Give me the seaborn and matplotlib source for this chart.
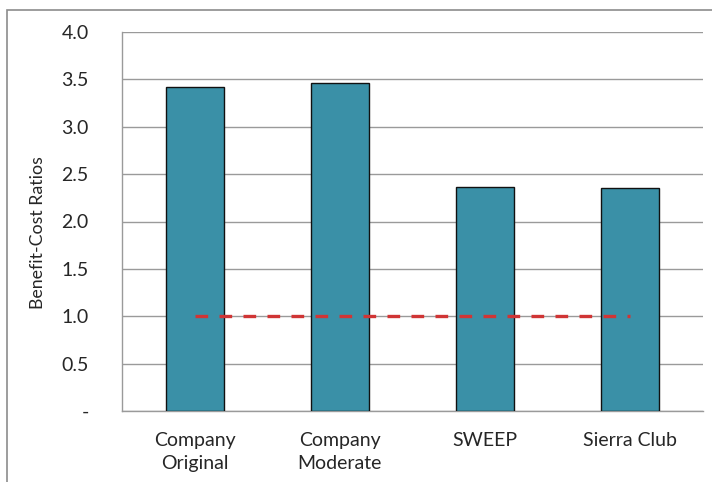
import matplotlib
matplotlib.use('Agg')
import matplotlib.pyplot as plt
import matplotlib.patches as mpatches
import matplotlib.ticker as mticker
import pandas as pd
import seaborn as sns

categories = ['Company\nOriginal', 'Company\nModerate', 'SWEEP', 'Sierra Club']
ratios = [3.42, 3.46, 2.36, 2.35]
breakeven = [1.0, 1.0]
y_ticks = [0.0, 0.5, 1.0, 1.5, 2.0, 2.5, 3.0, 3.5, 4.0]
y_ticklabels = ['-', '0.5', '1.0', '1.5', '2.0', '2.5', '3.0', '3.5', '4.0']

sns.set_theme(style='white')
plt.rcParams['font.family'] = ['Lato', 'DejaVu Sans']

df = pd.DataFrame({'scenario': categories, 'ratio': ratios})

fig = plt.figure(figsize=(7.12, 4.82), dpi=100)
ax = fig.add_axes([122 / 712, 71 / 482, 581 / 712, 379 / 482])

sns.barplot(data=df, x='scenario', y='ratio', ax=ax, color='#3A90A7',
            saturation=1, width=0.4, edgecolor='#111111', linewidth=1.0, zorder=3)

# break-even line from first to last bar
ax.plot([0, len(categories) - 1], breakeven, color='#D03535',
        linewidth=2.4, linestyle=(0, (3.8, 3.4)), zorder=4)

ax.set_xlim(-0.5, len(categories) - 0.5)
ax.set_ylim(0, 4.0)
ax.set_yticks(y_ticks)
ax.set_yticklabels(y_ticklabels, fontsize=14)
ax.yaxis.grid(True, color='#9a9a9a', linewidth=1.0, zorder=0)
ax.set_axisbelow(True)

ax.xaxis.set_minor_locator(mticker.FixedLocator([i - 0.5 for i in range(len(categories) + 1)]))
ax.tick_params(axis='x', which='major', length=0, pad=15, labelsize=14)
ax.tick_params(axis='x', which='minor', length=7, width=1, color='#9a9a9a', direction='out')
ax.tick_params(axis='y', which='major', length=6, width=1, color='#9a9a9a',
               direction='out', pad=18)
for lbl in ax.get_xticklabels():
    lbl.set_linespacing(1.45)
    lbl.set_va('top')

ax.set_xlabel('')
ax.set_ylabel('Benefit-Cost Ratios', fontsize=12.8)
ax.yaxis.set_label_coords(-0.13, 0.47)

for side in ['top', 'right']:
    ax.spines[side].set_visible(False)
for side in ['left', 'bottom']:
    ax.spines[side].set_color('#9a9a9a')
    ax.spines[side].set_linewidth(1.0)

# outer chart frame (runs off the right and bottom edges)
frame = mpatches.Rectangle((7 / 712, -0.1), 1.2, (482 - 10) / 482 + 0.1,
                           transform=fig.transFigure, fill=False,
                           edgecolor='#8c8c8c', linewidth=1.2, clip_on=False)
fig.add_artist(frame)

fig.savefig('out.png', dpi=100)
